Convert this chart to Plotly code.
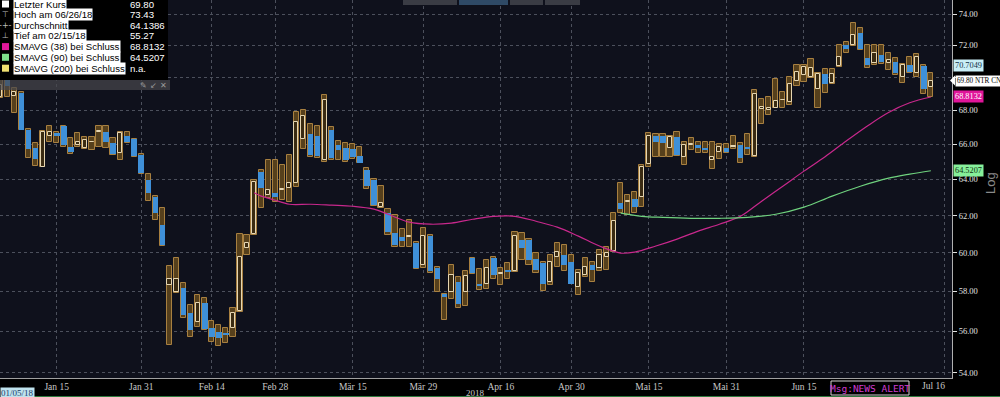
import plotly.graph_objects as go
import pandas as pd

# ---------------- calendar (TSX trading days) ----------------
holidays = ["2018-02-19", "2018-03-30", "2018-05-21", "2018-07-02"]
days = [d.strftime("%Y-%m-%d") for d in pd.bdate_range("2018-01-03", "2018-07-16")
        if d.strftime("%Y-%m-%d") not in holidays]

# ---------------- OHLC data (Jan 3 .. Jul 12, 2018) ----------------
opens = [68.84, 69.85, 68.90, 69.07, 66.87, 65.77, 64.72, 66.52,
         66.64, 67.05, 65.88, 65.94, 65.77, 66.12, 66.73, 66.70, 66.06, 65.53,
         66.47, 66.29, 65.41, 63.96, 63.01, 61.48, 58.33, 57.95, 58.20, 56.92,
         56.48, 57.39, 56.18, 55.99, 55.94, 56.18, 57.00, 60.25, 61.00, 64.42,
         63.12, 63.24, 63.40, 63.50, 63.79, 66.29, 66.58, 66.47, 65.12, 66.87,
         65.94, 65.82, 65.71, 65.35, 64.53, 63.96, 62.46, 62.13, 61.05, 60.84,
         60.84, 60.52, 59.35, 60.89, 59.20, 57.85, 57.95, 58.46, 57.95, 59.72,
         58.35, 58.38, 59.72, 58.88, 59.10, 59.04, 60.68, 60.68, 59.67, 59.46,
         58.46, 59.78, 59.88, 59.51, 58.22, 58.83, 59.35, 59.20, 59.78, 60.09,
         62.68, 62.73, 62.90, 63.01, 64.88, 66.52, 66.47, 65.77, 66.41, 65.29,
         65.94, 65.94, 65.82, 65.12, 65.59, 65.77, 65.85, 65.94, 65.88, 65.35,
         68.11, 68.04, 68.16, 68.60, 68.52, 69.79, 70.16, 70.03, 69.31, 70.22,
         69.67, 70.72, 72.04, 72.04, 72.81, 71.21, 70.91, 71.41, 70.91, 70.98,
         70.03, 70.79, 70.29, 70.72, 69.43]
highs = [69.85, 69.90, 69.37, 69.10, 66.93, 66.06, 66.81, 67.05,
         66.70, 67.08, 66.35, 66.64, 66.41, 66.41, 67.10, 67.10, 66.35, 66.70,
         66.70, 66.32, 65.45, 64.31, 63.05, 62.40, 59.30, 59.72, 58.42, 57.30,
         57.80, 57.66, 56.53, 56.33, 56.18, 57.17, 61.00, 60.95, 63.96, 64.53,
         65.12, 65.12, 64.82, 65.40, 67.92, 68.00, 67.17, 67.05, 68.93, 67.00,
         66.20, 66.10, 66.00, 65.88, 64.65, 64.00, 63.62, 62.35, 62.02, 61.27,
         61.75, 60.55, 61.32, 60.95, 59.25, 57.88, 59.35, 58.73, 59.04, 59.75,
         59.15, 59.62, 59.78, 59.20, 59.46, 61.10, 61.05, 60.73, 59.99, 59.51,
         59.88, 60.52, 60.41, 59.88, 59.10, 59.72, 59.51, 60.15, 60.30, 62.13,
         63.79, 63.12, 63.29, 64.82, 66.64, 66.58, 66.58, 66.47, 66.70, 66.12,
         66.35, 66.17, 66.12, 66.12, 66.00, 66.00, 66.47, 66.06, 66.58, 69.25,
         68.70, 68.84, 69.91, 69.13, 70.03, 70.79, 70.79, 71.13, 70.29, 70.54,
         70.54, 72.04, 72.23, 73.43, 73.13, 72.04, 72.04, 72.04, 71.54, 71.21,
         70.85, 71.28, 71.47, 70.79, 70.29]
lows = [68.78, 68.84, 67.86, 66.85, 65.24, 64.77, 64.70, 66.17,
        66.06, 65.88, 65.47, 65.88, 65.71, 65.65, 65.88, 65.82, 65.41, 65.12,
        66.06, 65.29, 64.31, 62.79, 61.75, 60.38, 55.35, 57.93, 56.67, 55.74,
        56.23, 56.08, 55.50, 55.27, 55.45, 55.74, 56.97, 59.88, 60.95, 62.40,
        62.96, 62.73, 62.84, 62.73, 63.56, 65.71, 65.30, 65.20, 65.00, 65.10,
        65.10, 65.00, 65.18, 64.94, 63.45, 62.51, 62.40, 60.95, 60.30, 60.30,
        60.30, 59.15, 59.20, 58.94, 57.95, 56.56, 57.60, 57.17, 57.26, 58.88,
        58.07, 58.12, 58.65, 58.33, 58.65, 58.99, 59.62, 59.35, 58.94, 58.00,
        58.33, 59.25, 59.04, 58.36, 57.80, 58.73, 58.46, 59.04, 59.10, 60.04,
        62.13, 62.02, 62.13, 62.46, 64.70, 65.29, 65.29, 65.29, 65.35, 64.82,
        65.65, 65.53, 65.53, 64.59, 65.18, 65.53, 65.71, 64.94, 65.41, 65.29,
        67.17, 67.75, 68.14, 68.16, 68.34, 69.49, 69.73, 69.97, 68.16, 69.07,
        69.61, 70.66, 71.54, 71.98, 71.73, 70.60, 70.79, 70.85, 70.47, 70.16,
        69.67, 70.29, 70.03, 69.01, 68.84]
closes = [69.55, 69.50, 69.13, 66.87, 65.71, 65.18, 66.70, 66.70,
          66.52, 65.94, 65.59, 66.12, 66.23, 66.17, 66.76, 66.12, 65.47, 66.64,
          66.17, 65.35, 64.36, 63.24, 62.13, 60.41, 58.65, 58.65, 56.80, 56.08,
          57.39, 56.13, 55.74, 55.69, 55.84, 56.92, 59.78, 60.52, 63.85, 63.50,
          63.40, 63.01, 63.45, 63.79, 67.34, 67.69, 65.41, 65.35, 68.64, 65.24,
          65.70, 65.12, 65.29, 64.96, 63.62, 62.57, 62.68, 61.10, 60.41, 60.62,
          60.89, 59.20, 60.89, 59.04, 58.62, 57.70, 58.83, 57.36, 58.78, 58.94,
          58.28, 59.20, 58.83, 58.94, 59.04, 60.89, 60.25, 59.62, 59.10, 58.38,
          59.51, 60.04, 59.35, 58.38, 58.94, 59.25, 59.10, 59.88, 59.99, 61.69,
          62.35, 62.79, 62.46, 64.70, 66.52, 66.17, 66.06, 66.41, 65.41, 65.94,
          66.00, 65.77, 65.65, 65.29, 65.88, 65.59, 65.90, 65.24, 65.77, 69.01,
          68.22, 68.16, 68.58, 68.64, 69.61, 70.35, 70.66, 70.60, 70.22, 69.61,
          70.22, 71.28, 71.79, 72.68, 71.79, 70.79, 71.54, 70.98, 71.09, 70.29,
          70.79, 70.35, 71.28, 69.31, 69.80]

# ---------------- moving averages ----------------
sma38_dates = ["2018-02-23", "2018-02-26", "2018-02-27", "2018-02-28", "2018-03-02",
               "2018-03-07", "2018-03-12", "2018-03-15", "2018-03-20", "2018-03-22",
               "2018-03-27", "2018-04-02", "2018-04-05", "2018-04-10", "2018-04-13",
               "2018-04-18", "2018-04-23", "2018-04-26", "2018-05-01", "2018-05-04",
               "2018-05-09", "2018-05-11", "2018-05-16", "2018-05-22", "2018-05-25",
               "2018-05-30", "2018-06-04", "2018-06-07", "2018-06-12", "2018-06-15",
               "2018-06-20", "2018-06-25", "2018-06-28", "2018-07-04", "2018-07-09",
               "2018-07-12"]
sma38_vals = [63.26, 63.07, 62.96, 62.84, 62.62, 62.62, 62.57, 62.51, 62.35, 62.07,
              61.64, 61.53, 61.59, 61.80, 61.96, 61.96, 61.69, 61.37, 60.89, 60.36,
              59.99, 60.04, 60.36, 60.73, 61.16, 61.53, 61.96, 62.79, 63.62, 64.47,
              65.29, 66.20, 67.08, 67.88, 68.46, 68.81]
sma90_dates = ["2018-05-09", "2018-05-14", "2018-05-17", "2018-05-24", "2018-05-30",
               "2018-06-05", "2018-06-11", "2018-06-15", "2018-06-21", "2018-06-27",
               "2018-07-04", "2018-07-09", "2018-07-12"]
sma90_vals = [62.13, 61.96, 61.90, 61.85, 61.85, 61.90, 62.07, 62.46, 63.07, 63.62,
              64.07, 64.30, 64.49]

tick_dates = ["2018-01-15", "2018-01-31", "2018-02-14", "2018-02-28", "2018-03-15",
              "2018-03-29", "2018-04-16", "2018-04-30", "2018-05-15", "2018-05-31",
              "2018-06-15", "2018-07-16"]
tick_text = ["Jan 15", "Jan 31", "Feb 14", "Feb 28", "Mär 15", "Mär 29", "Apr 16",
             "Apr 30", "Mai 15", "Mai 31", "Jun 15", ""]
y_ticks = [54, 56, 58, 60, 62, 64, 66, 68, 70, 72, 74]
y_tick_text = ["54.00", "56.00", "58.00", "60.00", "62.00", "64.00", "66.00", "68.00",
               "", "72.00", "74.00"]

legend_labels = ["Letzter Kurs", "Hoch am 06/26/18", "Durchschnitt", "Tief am 02/15/18",
                 "SMAVG (38) bei Schluss", "SMAVG (90) bei Schluss", "SMAVG (200) bei Schluss"]
legend_values = ["69.80", "73.43", "64.1386", "55.27", "68.8132", "64.5207", "n.a."]

# ---------------- build ----------------
pos = {d: i for i, d in enumerate(days)}
n = len(opens)
x = list(range(n))
up = [i for i in x if closes[i] >= opens[i]]
dn = [i for i in x if closes[i] < opens[i]]

fig = go.Figure()
fig.add_trace(go.Bar(x=x, base=lows, y=[h - l for h, l in zip(highs, lows)], width=0.74,
                     marker=dict(color="#56401c", line=dict(color="#a88040", width=1)),
                     hoverinfo="skip"))
fig.add_trace(go.Bar(x=up, base=[opens[i] for i in up],
                     y=[max(closes[i] - opens[i], 0.04) for i in up], width=0.58,
                     marker=dict(color="#3a2b12", line=dict(color="#e6d6b2", width=1)),
                     hoverinfo="skip"))
fig.add_trace(go.Bar(x=dn, base=[closes[i] for i in dn],
                     y=[opens[i] - closes[i] for i in dn], width=0.8,
                     marker=dict(color="#3f90d8", line=dict(width=0)),
                     hoverinfo="skip"))
fig.add_trace(go.Scatter(x=[pos[d] for d in sma38_dates], y=sma38_vals, mode="lines",
                         line=dict(color="#c8288c", width=1.2, shape="spline")))
fig.add_trace(go.Scatter(x=[pos[d] for d in sma90_dates], y=sma90_vals, mode="lines",
                         line=dict(color="#6fd27e", width=1.2, shape="spline")))

PW, PH = 952.0, 378.0
def fx(p):
    return p / PW
def fy(p):
    return 1 - p / PH

shapes = []
annotations = []

# legend panel
shapes.append(dict(type="rect", xref="paper", yref="paper", x0=fx(0), x1=fx(168),
                   y0=fy(80), y1=fy(0), fillcolor="black", line=dict(width=0), layer="above"))
shapes.append(dict(type="rect", xref="paper", yref="paper", x0=fx(0), x1=fx(170),
                   y0=fy(90), y1=fy(80), fillcolor="rgba(70,70,76,0.72)",
                   line=dict(width=0), layer="above"))
row_y = [4, 14.5, 25.3, 35.8, 46.6, 57.3, 68.2]
icon_cols = ["white", None, None, None, "#e0189a", "#7ee08a", "#f0e070"]
icon_txt = ["", "⊤", "-+-", "⊥", "", "", ""]
for k, (lab, val) in enumerate(zip(legend_labels, legend_values)):
    yy = row_y[k]
    if icon_cols[k]:
        shapes.append(dict(type="rect", xref="paper", yref="paper", x0=fx(2), x1=fx(9),
                           y0=fy(yy + 3.5), y1=fy(yy - 3.5), fillcolor=icon_cols[k],
                           line=dict(width=0), layer="above"))
    else:
        annotations.append(dict(x=fx(5.5), y=fy(yy), xref="paper", yref="paper",
                                text=icon_txt[k], showarrow=False, xanchor="center",
                                yanchor="middle",
                                font=dict(family="DejaVu Sans", size=8, color="#bbbbbb")))
    annotations.append(dict(x=fx(13), y=fy(yy), xref="paper", yref="paper", text=lab,
                            showarrow=False, xanchor="left", yanchor="middle",
                            bgcolor="white", borderpad=0,
                            font=dict(family="Liberation Sans", size=9.6, color="black")))
    annotations.append(dict(x=fx(128), y=fy(yy), xref="paper", yref="paper", text=val,
                            showarrow=False, xanchor="left", yanchor="middle",
                            font=dict(family="Liberation Sans", size=9.6, color="white")))
for gx, g in [(143, "✎"), (153, "↙"), (163, "✕")]:
    annotations.append(dict(x=fx(gx), y=fy(85), xref="paper", yref="paper", text=g,
                            showarrow=False, xanchor="center", yanchor="middle",
                            font=dict(family="DejaVu Sans", size=8, color="#9a9a9a")))

# top toolbar (cut off)
for x0, x1, c in [(403, 457, "#3a3c44"), (459, 508, "#2f4a66"), (510, 543, "#3a3c44"),
                  (545, 580, "#3a3c44")]:
    shapes.append(dict(type="rect", xref="paper", yref="paper", x0=fx(x0), x1=fx(x1),
                       y0=fy(5), y1=fy(0), fillcolor=c, line=dict(width=0), layer="above"))

# right side value labels
def rlabel(text, py, bg, fg, x0=953, size=8.3):
    annotations.append(dict(x=fx(x0), y=fy(py), xref="paper", yref="paper", text=text,
                            showarrow=False, xanchor="left", yanchor="middle", bgcolor=bg,
                            borderpad=1,
                            font=dict(family="Liberation Serif", size=size, color=fg)))
rlabel("70.7049", 65.5, "#c9eef6", "#12304a")
rlabel("69.80 NTR CN", 80.5, "white", "black", x0=955, size=7.2)
rlabel("68.8132", 96.5, "#e0159a", "white")
rlabel("64.5207", 171, "#86f09a", "#103010")
shapes.append(dict(type="path", xref="paper", yref="paper",
                   path=f"M {fx(950)} {fy(80.5)} L {fx(955)} {fy(75.5)} L {fx(955)} {fy(85.5)} Z",
                   fillcolor="white", line=dict(width=0), layer="above"))

annotations.append(dict(x=fx(990), y=fy(183), xref="paper", yref="paper", text="Log",
                        showarrow=False, textangle=-90, xanchor="center", yanchor="middle",
                        font=dict(family="Liberation Sans", size=13, color="#8a8a8a")))

# bottom texts
annotations.append(dict(x=fx(947), y=fy(379), xref="paper", yref="paper", text="Jul 16",
                        showarrow=False, xanchor="right", yanchor="top",
                        font=dict(family="Liberation Serif", size=9.5, color="#c8c8c8")))
annotations.append(dict(x=fx(475), y=fy(393), xref="paper", yref="paper", text="2018",
                        showarrow=False, xanchor="center", yanchor="middle",
                        font=dict(family="Liberation Serif", size=9, color="#c8c8c8")))
annotations.append(dict(x=fx(0), y=fy(392.5), xref="paper", yref="paper", text="01/05/18",
                        showarrow=False, xanchor="left", yanchor="middle",
                        bgcolor="#bfe3ee", borderpad=0,
                        font=dict(family="Liberation Serif", size=9, color="#1a3a6a")))
shapes.append(dict(type="line", xref="paper", yref="paper", x0=fx(28), x1=fx(1000),
                   y0=fy(396.5), y1=fy(396.5), line=dict(color="#2f7a3e", width=1)))
shapes.append(dict(type="rect", xref="paper", yref="paper", x0=fx(831), x1=fx(909),
                   y0=fy(395), y1=fy(381), fillcolor="black",
                   line=dict(color="#d0d0d0", width=1)))
annotations.append(dict(x=fx(870), y=fy(388), xref="paper", yref="paper",
                        text="Msg:NEWS ALERT", showarrow=False, xanchor="center",
                        yanchor="middle",
                        font=dict(family="DejaVu Sans Mono", size=9.5, color="#d03cd0")))

fig.update_layout(
    width=1000, height=397, margin=dict(l=0, r=48, t=0, b=19),
    paper_bgcolor="black", plot_bgcolor="#0f111c", showlegend=False,
    barmode="overlay", bargap=0, shapes=shapes, annotations=annotations,
    xaxis=dict(range=[-0.04, 135.0], tickmode="array",
               tickvals=[pos[d] for d in tick_dates], ticktext=tick_text,
               showgrid=True, gridcolor="#4c505c", griddash="dot", gridwidth=1,
               zeroline=False, showline=True, linecolor="#a0a0a0", linewidth=1,
               ticks="", tickfont=dict(family="Liberation Serif", size=9.5, color="#c8c8c8")),
    yaxis=dict(type="log", range=[1.73037, 1.87469], side="right", tickmode="array",
               tickvals=y_ticks, ticktext=y_tick_text, showgrid=True,
               gridcolor="#4c505c", griddash="dot", gridwidth=1, zeroline=False,
               showline=True, linecolor="#b0b0b0", linewidth=1, ticks="outside",
               ticklen=4, tickcolor="#e0e0e0",
               tickfont=dict(family="Liberation Serif", size=8.5, color="#e0e0e0")),
)

fig.write_html("out.html", config={"displayModeBar": False},
               post_script="document.body.style.margin='0';document.body.style.background='black';")
